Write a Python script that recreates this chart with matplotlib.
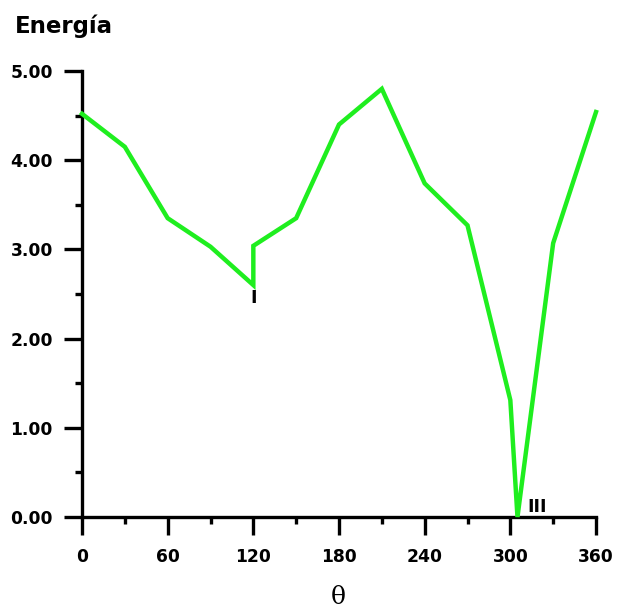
import matplotlib
matplotlib.use("Agg")
import matplotlib.pyplot as plt
from matplotlib.ticker import MultipleLocator, FormatStrFormatter

theta = [0, 30, 60, 90, 120, 120, 150, 180, 210, 240, 270, 300, 305, 330, 360]
energia = [4.52, 4.15, 3.35, 3.03, 2.60, 3.04, 3.35, 4.40, 4.80, 3.74, 3.27, 1.31, 0.0, 3.07, 4.54]
annotations = [("I", 120, 2.45), ("III", 319, 0.11)]

fig = plt.figure(figsize=(6.17, 6.10), dpi=100)
ax = fig.add_axes([82/617, 1-517/610, (596-82)/617, (517-71)/610])

ax.plot(theta, energia, color="#1fee1f", lw=3.2, solid_joinstyle="miter", clip_on=False, zorder=3)

ax.set_xlim(0, 360)
ax.set_ylim(0, 5)
for s in ["top", "right"]:
    ax.spines[s].set_visible(False)
for s in ["left", "bottom"]:
    ax.spines[s].set_linewidth(2.4)
    ax.spines[s].set_color("black")

ax.xaxis.set_major_locator(MultipleLocator(60))
ax.xaxis.set_minor_locator(MultipleLocator(30))
ax.yaxis.set_major_locator(MultipleLocator(1))
ax.yaxis.set_minor_locator(MultipleLocator(0.5))
ax.yaxis.set_major_formatter(FormatStrFormatter("%.2f"))

ax.tick_params(axis="both", which="major", direction="out", length=13, width=2.4, color="black")
ax.tick_params(axis="both", which="minor", direction="out", length=5, width=2.4, color="black")
ax.tick_params(axis="x", which="major", pad=9)
ax.tick_params(axis="y", which="major", pad=8)

for lbl in ax.get_xticklabels() + ax.get_yticklabels():
    lbl.set_fontfamily("DejaVu Sans")
    lbl.set_fontweight("bold")
    lbl.set_fontsize(12.3)

for txt, x, y in annotations:
    ax.text(x, y, txt, ha="center", va="center", fontsize=12.3, fontweight="bold", family="DejaVu Sans")

fig.text(15/617, 1-33/610, "Energía", ha="left", va="baseline", fontsize=16.5, fontweight="bold", family="DejaVu Sans")
fig.text(338/617, 1-598/610, "θ", ha="center", va="center", fontsize=18, family="DejaVu Serif")

fig.savefig("out.png", dpi=100, facecolor="white")
